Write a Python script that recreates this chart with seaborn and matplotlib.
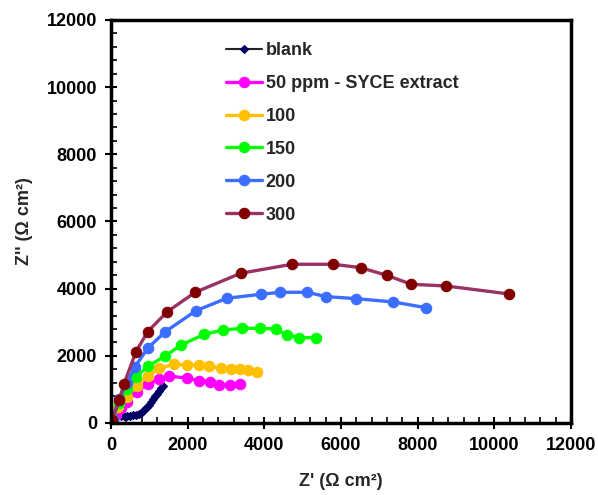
import matplotlib
matplotlib.use("Agg")
import matplotlib.pyplot as plt
from matplotlib.ticker import MultipleLocator
import seaborn as sns
import pandas as pd

sns.set_theme(style="white")
plt.rcParams["font.family"] = ["Liberation Sans", "DejaVu Sans"]
plt.rcParams["font.weight"] = "bold"

# Nyquist data: Z' (real) and Z'' (imaginary), ohm cm^2
labels = ["blank", "50 ppm - SYCE extract", "100", "150", "200", "300"]

blank_x = [180, 260, 340, 420, 500, 580, 650, 720, 780, 840, 900, 950, 1000, 1050,
           1100, 1150, 1200, 1250, 1300, 1350]
blank_y = [230, 215, 210, 210, 215, 225, 245, 275, 310, 360, 420, 480, 550, 630,
           710, 790, 870, 950, 1030, 1110]

c50_x = [20, 120, 250, 409, 670, 974, 1250, 1521, 1991, 2296, 2583, 2826, 3105, 3366]
c50_y = [50, 250, 450, 635, 933, 1161, 1300, 1400, 1330, 1261, 1231, 1132, 1132, 1161]

c100_x = [40, 191, 409, 670, 957, 1260, 1644, 1975, 2296, 2549, 2862, 3123, 3366, 3582, 3801]
c100_y = [80, 485, 783, 1102, 1400, 1628, 1747, 1727, 1727, 1697, 1628, 1599, 1599, 1578, 1529]

c150_x = [40, 200, 420, 652, 974, 1417, 1818, 2434, 2930, 3426, 3887, 4296, 4584, 4913, 5348]
c150_y = [100, 600, 1000, 1379, 1697, 1995, 2314, 2641, 2769, 2819, 2819, 2799, 2621, 2541, 2541]

c200_x = [40, 200, 420, 626, 957, 1417, 2218, 3018, 3913, 4418, 5122, 5609, 6392, 7366, 8210]
c200_y = [120, 700, 1200, 1677, 2224, 2719, 3344, 3713, 3833, 3892, 3892, 3762, 3703, 3603, 3435]

c300_x = [34, 217, 339, 652, 957, 1469, 2199, 3384, 4722, 5800, 6514, 7193, 7835, 8740, 10384]
c300_y = [89, 685, 1161, 2123, 2719, 3315, 3892, 4458, 4726, 4726, 4625, 4398, 4130, 4080, 3842]

series_x = [blank_x, c50_x, c100_x, c150_x, c200_x, c300_x]
series_y = [blank_y, c50_y, c100_y, c150_y, c200_y, c300_y]

line_colors = ["#222222", "#FF00FF", "#FFC000", "#00FF00", "#3B6DFF", "#993366"]
marker_colors = ["#000066", "#FF00FF", "#FFC000", "#00FF00", "#3B6DFF", "#800000"]
markers = ["D", "o", "o", "o", "o", "o"]
marker_sizes = [4, 7.5, 7.5, 7.5, 7.5, 7.5]
line_widths = [1.5, 2.4, 2.4, 2.4, 2.4, 2.4]

fig = plt.figure(figsize=(5.98, 4.95), dpi=100)
ax = fig.add_axes([0.1856, 0.1455, 0.7692, 0.8141])

for lab, xs, ys, lc, mc, mk, ms, lw in zip(labels, series_x, series_y, line_colors,
                                           marker_colors, markers, marker_sizes, line_widths):
    df = pd.DataFrame({"x": xs, "y": ys})
    sns.lineplot(data=df, x="x", y="y", sort=False, ax=ax, color=lc, linewidth=lw,
                 marker=mk, markersize=ms, markerfacecolor=mc, markeredgecolor=mc,
                 markeredgewidth=0.8, label=lab)

ax.set_xlim(0, 12000)
ax.set_ylim(0, 12000)
ax.xaxis.set_major_locator(MultipleLocator(2000))
ax.yaxis.set_major_locator(MultipleLocator(2000))
ax.xaxis.set_minor_locator(MultipleLocator(400))
ax.yaxis.set_minor_locator(MultipleLocator(400))
ax.tick_params(which="major", direction="inout", length=8, width=1.5, colors="black",
               labelsize=13, pad=6, bottom=True, left=True)
ax.tick_params(which="minor", direction="in", length=4, width=1.2, colors="black",
               bottom=True, left=True)
for lbl in ax.get_xticklabels() + ax.get_yticklabels():
    lbl.set_fontweight("bold")

for sp in ax.spines.values():
    sp.set_visible(True)
    sp.set_color("black")
    sp.set_linewidth(2.5)

ax.set_xlabel("Z' (Ω cm²)", fontsize=13, fontweight="bold", labelpad=14)
ax.set_ylabel("Z'' (Ω cm²)", fontsize=13, fontweight="bold", labelpad=10)

leg = ax.legend(loc="upper left", bbox_to_anchor=(0.378, 0.915),
                bbox_transform=fig.transFigure, frameon=False,
                fontsize=13, handlelength=2.0, handletextpad=0.2,
                labelspacing=0.88, borderpad=0.0, borderaxespad=0.0)
for t in leg.get_texts():
    t.set_fontweight("bold")

fig.savefig("out.png", dpi=100)
